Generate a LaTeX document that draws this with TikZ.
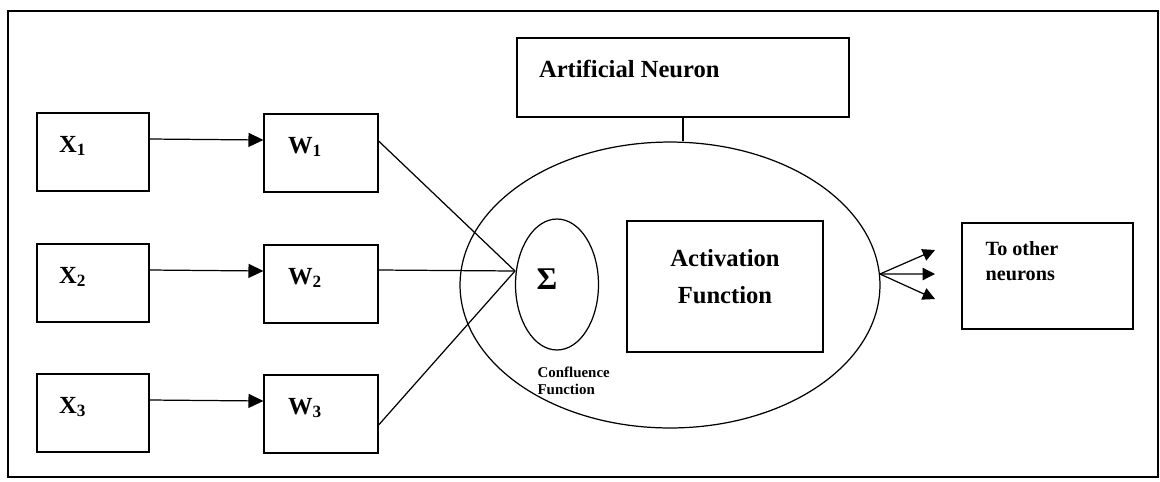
\documentclass[tikz,border=0pt]{standalone}
\usepackage{fontspec}
\setmainfont{Liberation Serif}
\usetikzlibrary{arrows.meta,shapes.geometric}

\begin{document}
\begin{tikzpicture}[x=0.02cm,y=-0.02cm,line width=0.7pt,
        every node/.style={font=\fontsize{14}{21}\selectfont\bfseries},
        box/.style={draw,rectangle,inner sep=0pt},
        inbox/.style={box,minimum width=2.24cm,minimum height=1.56cm},
        wbox/.style={box,minimum width=2.28cm,minimum height=1.56cm},
        lbl/.style={inner sep=0pt,anchor=base west},
        feed/.style={-{Triangle[length=8.5pt,width=8pt]}},
        fan/.style={-{Triangle[length=7pt,width=7pt]}}]
    \useasboundingbox (0,0) rectangle (1160,481);
    \draw (8,11) rectangle (1158,477);
    % inputs and weights
    \node[inbox] (x1) at (93,152) {};
    \node[inbox] (x2) at (93,283) {};
    \node[inbox] (x3) at (93,413) {};
    \node[lbl,xshift=0.44cm] (x1t) at (x1.west) {X\textsubscript{1}};
    \node[lbl,xshift=0.44cm] (x2t) at (x2.west) {X\textsubscript{2}};
    \node[lbl,xshift=0.44cm] (x3t) at (x3.west) {X\textsubscript{3}};
    \node[wbox] (w1) at (321,153) {};
    \node[wbox] (w2) at (321,284) {};
    \node[wbox] (w3) at (321,414) {};
    \node[lbl,xshift=0.48cm] (w1t) at (w1.west) {W\textsubscript{1}};
    \node[lbl,xshift=0.48cm] (w2t) at (w2.west) {W\textsubscript{2}};
    \node[lbl,xshift=0.48cm] (w3t) at (w3.west) {W\textsubscript{3}};
    \draw[feed] ([yshift=0.26cm]x1.east) -- ([yshift=0.26cm]w1.west);
    \draw[feed] ([yshift=0.26cm]x2.east) -- ([yshift=0.26cm]w2.west);
    \draw[feed] ([yshift=0.26cm]x3.east) -- ([yshift=0.26cm]w3.west);
    % the neuron
    \node[draw,ellipse,inner sep=0pt,minimum width=8.4cm,minimum height=5.72cm] (neuron) at (670,285) {};
    \node[box,minimum width=6.64cm,minimum height=1.58cm] (anbox) at (683,77.5) {};
    \node[lbl,xshift=0.44cm] (antext) at (anbox.west) {Artificial Neuron};
    \draw (anbox.south) -- (anbox.south |- neuron.north);
    \node[draw,ellipse,inner sep=0pt,minimum width=1.66cm,minimum height=2.62cm] (sum) at (557,284.5) {};
    \node[inner sep=0pt,font=\fontsize{18}{20}\selectfont\bfseries] (sig) at (547,279.5) {Σ};
    \node[inner sep=0pt,anchor=west,align=left,font=\fontsize{8.5}{9.6}\selectfont\bfseries] (conf) at (537,381) {Confluence\\Function};
    \node[box,minimum width=3.92cm,minimum height=2.62cm] (act) at (725,286.5) {};
    \node[inner sep=0pt,align=center] (acttext) at (725,277) {Activation\\Function};
    \coordinate (sumin) at (515,271);
    \draw ([yshift=0.24cm]w1.east) -- (sumin);
    \draw ([yshift=0.28cm]w2.east) -- (sumin);
    \draw ([yshift=-0.22cm]w3.east) -- (sumin);
    % output
    \node[box,minimum width=3.42cm,minimum height=2.12cm] (out) at (1047.5,276) {};
    \node[inner sep=0pt,anchor=west,align=left,font=\fontsize{11.5}{14}\selectfont\bfseries] (outtext) at (985,261) {To other\\neurons};
    \coordinate (o1) at (935,250);
    \coordinate (o2) at (935,274);
    \coordinate (o3) at (935,299);
    \draw[fan] (neuron.3) -- (o1);
    \draw[fan] (neuron.3) -- (o2);
    \draw[fan] (neuron.3) -- (o3);
\end{tikzpicture}
\end{document}
